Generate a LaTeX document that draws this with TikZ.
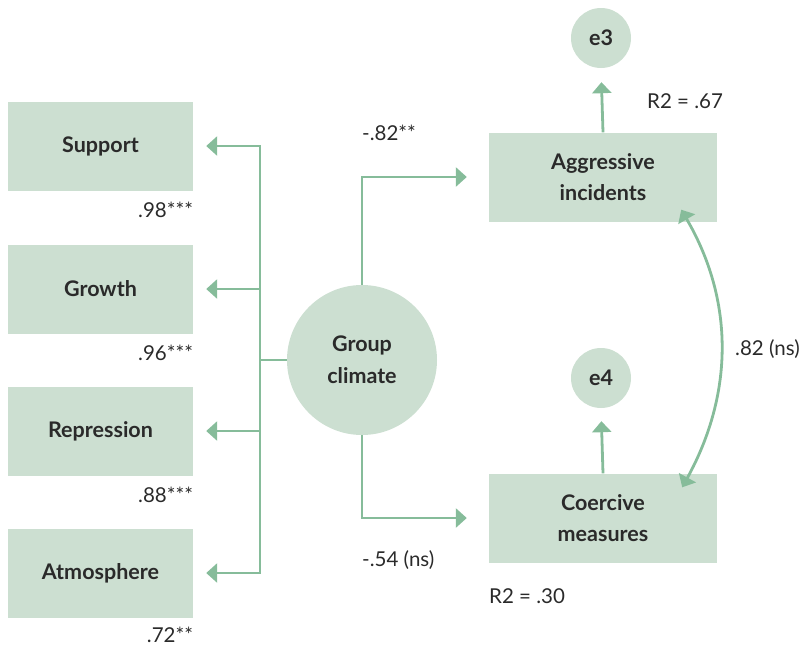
\documentclass[tikz,border=0pt]{standalone}
\usepackage{fontspec}
\setmainfont{Lato}
\usetikzlibrary{arrows.meta}
\definecolor{boxfill}{HTML}{CCDFD1}
\definecolor{linegreen}{HTML}{86BC9A}
\definecolor{ink}{HTML}{2A2A2A}
\tikzset{
  varbox/.style={rectangle, fill=boxfill, minimum width=185pt, minimum height=89pt,
    inner sep=0pt, font=\bfseries\fontsize{21.5}{31}\selectfont, text=ink, align=center},
  latent/.style={circle, fill=boxfill, inner sep=0pt, text=ink,
    font=\bfseries\fontsize{21.5}{32}\selectfont, align=center},
  conn/.style={draw=linegreen, line width=2.8pt},
  tip/.style={-{Triangle[length=11pt,width=19pt]}},
  coef/.style={text=ink, font=\fontsize{20.5}{24}\selectfont, inner sep=0pt}
}
\begin{document}
\begin{tikzpicture}[x=1pt,y=-1pt]
\useasboundingbox (0,0) rectangle (807,646);

% indicator boxes
\node[varbox] (sup) at (100.5,146) {Support};
\node[varbox] (gro) at (100.5,289) {Growth};
\node[varbox] (rep) at (100.5,431) {Repression};
\node[varbox] (atm) at (100.5,573) {Atmosphere};

% latent factor
\node[latent, minimum size=150pt] (gc) at (362,360) {Group\\climate};

% outcome boxes
\node[varbox, minimum width=228pt] (agg) at (603,177) {Aggressive\\incidents};
\node[varbox, minimum width=228pt] (coe) at (603,518) {Coercive\\measures};

% residual terms
\node[latent, minimum size=60pt] (e3) at (601,38) {e3};
\node[latent, minimum size=60pt] (e4) at (601,378) {e4};

% trunk from the factor to the indicators
\coordinate (t) at (260,0);
\draw[conn] (gc.west) -- (gc.west -| t);
\draw[conn, line cap=rect] (sup.east -| t) -- (atm.east -| t);
\foreach \b in {sup,gro,rep,atm}
  \draw[conn, tip, shorten >=13pt] (\b.east -| t) -- (\b.east);

% paths to outcomes
\draw[conn, tip, shorten >=22pt] (gc.north) |- (agg.west);
\draw[conn, tip, shorten >=22pt] (gc.south) |- (coe.west);

% residual arrows
\draw[conn, tip, shorten >=14pt] (agg.north) -- (e3.south);
\draw[conn, tip, shorten >=13pt] (coe.north) -- (e4.south);

% correlation between outcomes
\coordinate (ca) at ([xshift=-36pt,yshift=12pt]agg.south east);
\coordinate (cb) at ([xshift=-35pt,yshift=-14pt]coe.north east);
\draw[conn, {Triangle[length=11pt,width=19pt]}-{Triangle[length=11pt,width=19pt]}]
  (ca) .. controls (734,300) and (734,393) .. (cb);

% loadings
\node[coef, anchor=east] (l1) at ([yshift=-19pt]sup.south east) {.98***};
\node[coef, anchor=east] (l2) at ([yshift=-19pt]gro.south east) {.96***};
\node[coef, anchor=east] (l3) at ([yshift=-19pt]rep.south east) {.88***};
\node[coef, anchor=east] (l4) at ([yshift=-17pt]atm.south east) {.72**};

% path coefficients and fit
\node[coef, anchor=west] (p1) at (362,133) {-.82**};
\node[coef, anchor=west] (p2) at (362,560) {-.54 (ns)};
\node[coef, anchor=west] (r1) at (647,101) {R2 = .67};
\node[coef, anchor=west] (r2) at (489,596) {R2 = .30};
\node[coef, anchor=west] (rc) at (735,349) {.82 (ns)};
\end{tikzpicture}
\end{document}
